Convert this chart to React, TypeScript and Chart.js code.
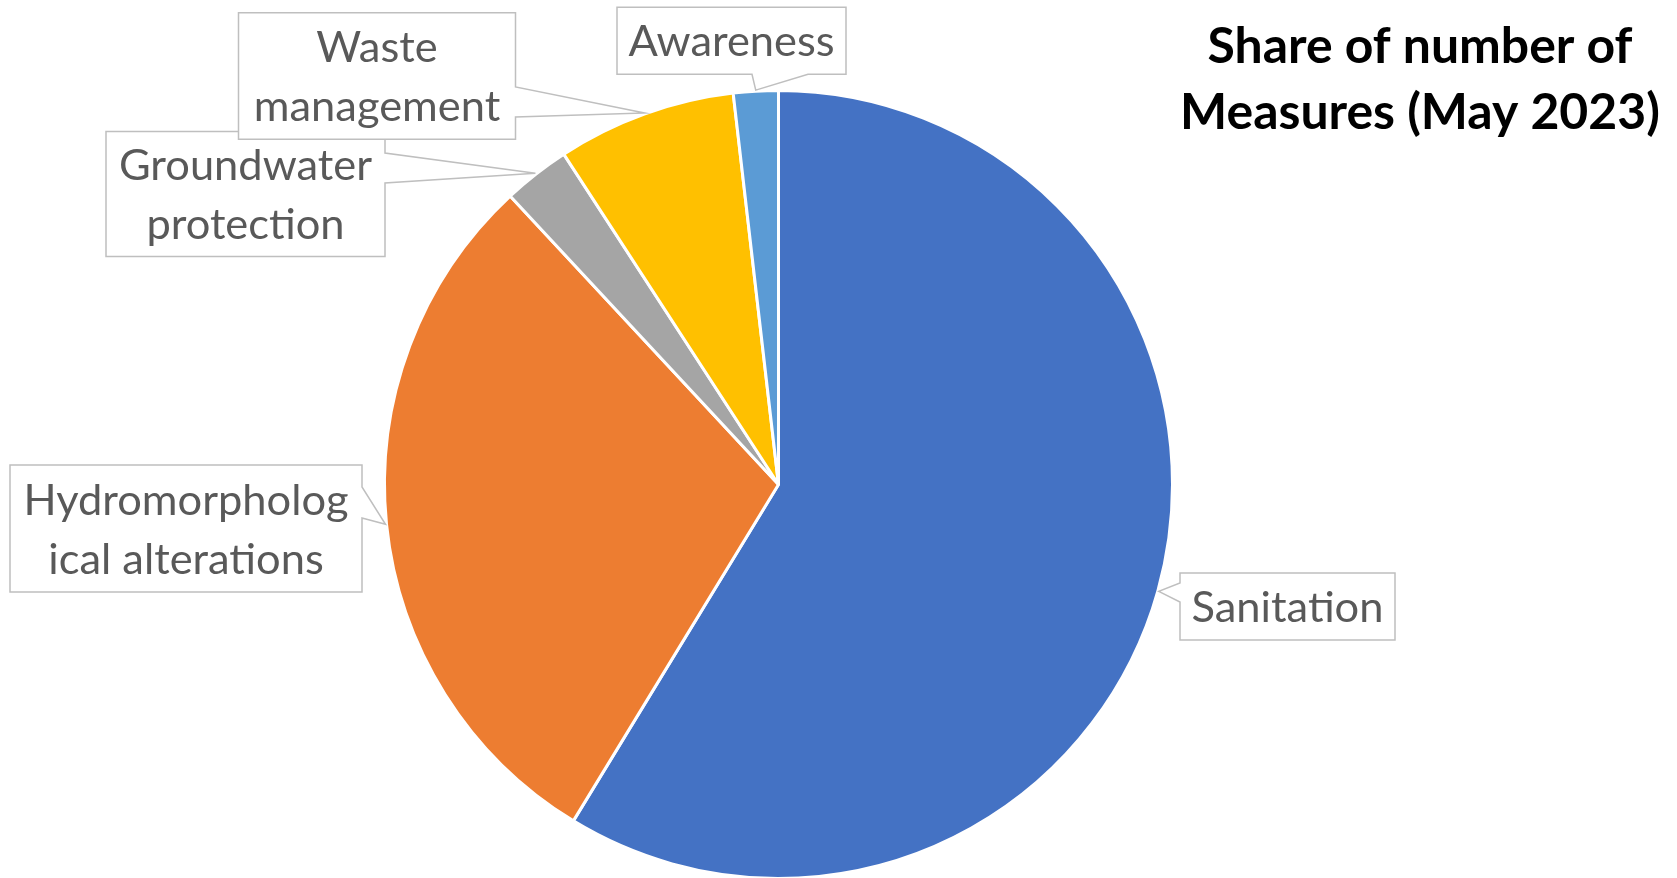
import React, { useEffect, useRef } from "react";
import { Chart, registerables } from "chart.js";

Chart.register(...registerables);

// ---- data ----
const categories = [
  "Sanitation",
  "Hydromorphological alterations",
  "Groundwater protection",
  "Waste management",
  "Awareness",
];
const labelLines = [
  ["Sanitation"],
  ["Hydromorpholog", "ical alterations"],
  ["Groundwater", "protection"],
  ["Waste", "management"],
  ["Awareness"],
];
const measureCounts = [64, 32, 3, 8, 2];
const sliceColors = ["#4472C4", "#ED7D31", "#A5A5A5", "#FFC000", "#5B9BD5"];
const titleLines = ["Share of number of", "Measures (May 2023)"];

// ---- callout box layout (styling / placement only) ----
type Callout = { x: number; y: number; w: number; h: number; side: string; b0: number; b1: number };
const calloutLayout: Callout[] = [
  { x: 1180, y: 573, w: 215, h: 67, side: "left", b0: 583, b1: 602 },
  { x: 10, y: 465, w: 352, h: 127, side: "right", b0: 487, b1: 518 },
  { x: 106, y: 131.5, w: 279, h: 125, side: "right", b0: 153, b1: 183 },
  { x: 238.5, y: 12.7, w: 277, h: 126.6, side: "right", b0: 87, b1: 117 },
  { x: 617, y: 7.3, w: 229, h: 67, side: "bottom", b0: 752, b1: 808 },
];

const FONT = "Lato, 'Open Sans', sans-serif";

const calloutPlugin = {
  id: "calloutPlugin",
  afterDraw(chart: any) {
    const ctx: CanvasRenderingContext2D = chart.ctx;
    const meta = chart.getDatasetMeta(0);
    ctx.save();

    ctx.font = `100px ${FONT}`;
    const w100 = ctx.measureText("Sanitation").width;
    const fs = (100 * 192) / w100;
    const lineH = 59;

    calloutLayout.forEach((c, i) => {
      const arc = meta.data[i];
      if (!arc) return;
      const p = arc.getProps(["x", "y", "startAngle", "endAngle", "outerRadius"], true);
      const mid = (p.startAngle + p.endAngle) / 2;
      const tx = p.x + Math.cos(mid) * (p.outerRadius + 1);
      const ty = p.y + Math.sin(mid) * (p.outerRadius + 1);
      const { x, y, w, h, side, b0, b1 } = c;

      ctx.beginPath();
      ctx.moveTo(x, y);
      ctx.lineTo(x + w, y);
      if (side === "right") {
        ctx.lineTo(x + w, b0);
        ctx.lineTo(tx, ty);
        ctx.lineTo(x + w, b1);
      }
      ctx.lineTo(x + w, y + h);
      if (side === "bottom") {
        ctx.lineTo(b1, y + h);
        ctx.lineTo(tx, ty);
        ctx.lineTo(b0, y + h);
      }
      ctx.lineTo(x, y + h);
      if (side === "left") {
        ctx.lineTo(x, b1);
        ctx.lineTo(tx, ty);
        ctx.lineTo(x, b0);
      }
      ctx.closePath();
      ctx.fillStyle = "#ffffff";
      ctx.fill();
      ctx.strokeStyle = "#BFBFBF";
      ctx.lineWidth = 1.5;
      ctx.stroke();

      ctx.font = `${fs}px ${FONT}`;
      ctx.fillStyle = "#595959";
      ctx.textAlign = "center";
      ctx.textBaseline = "alphabetic";
      const capH = ctx.measureText("H").actualBoundingBoxAscent;
      const lines = labelLines[i];
      const cx = x + w / 2;
      const cy = y + h / 2;
      lines.forEach((ln, k) => {
        const by = cy + (k - (lines.length - 1) / 2) * lineH + capH / 2;
        ctx.fillText(ln, cx, by);
      });
    });

    // title
    ctx.font = `bold 100px ${FONT}`;
    const tw100 = ctx.measureText(titleLines[1]).width;
    const tfs = (100 * 480) / tw100;
    ctx.font = `bold ${tfs}px ${FONT}`;
    ctx.fillStyle = "#000000";
    ctx.textAlign = "center";
    ctx.textBaseline = "alphabetic";
    ctx.fillText(titleLines[0], 1420, 63);
    ctx.fillText(titleLines[1], 1420, 128.5);

    ctx.restore();
  },
};

export default function App() {
  const canvasRef = useRef<HTMLCanvasElement | null>(null);

  useEffect(() => {
    document.body.style.margin = "0";
    const canvas = canvasRef.current;
    if (!canvas) return;
    const chart = new Chart(canvas, {
      type: "pie",
      data: {
        labels: categories,
        datasets: [
          {
            data: measureCounts,
            backgroundColor: sliceColors,
            borderColor: "#ffffff",
            borderWidth: 3,
            radius: 394,
          } as any,
        ],
      },
      options: {
        responsive: false,
        maintainAspectRatio: false,
        animation: false,
        layout: { padding: { left: 385, right: 505, top: 91, bottom: 0 } },
        plugins: {
          legend: { display: false },
          tooltip: { enabled: false },
          title: { display: false },
        },
      },
      plugins: [calloutPlugin],
    });
    return () => chart.destroy();
  }, []);

  return (
    <div style={{ width: 1677, height: 878, background: "#ffffff" }}>
      <canvas ref={canvasRef} width={1677} height={878} style={{ display: "block" }} />
    </div>
  );
}
